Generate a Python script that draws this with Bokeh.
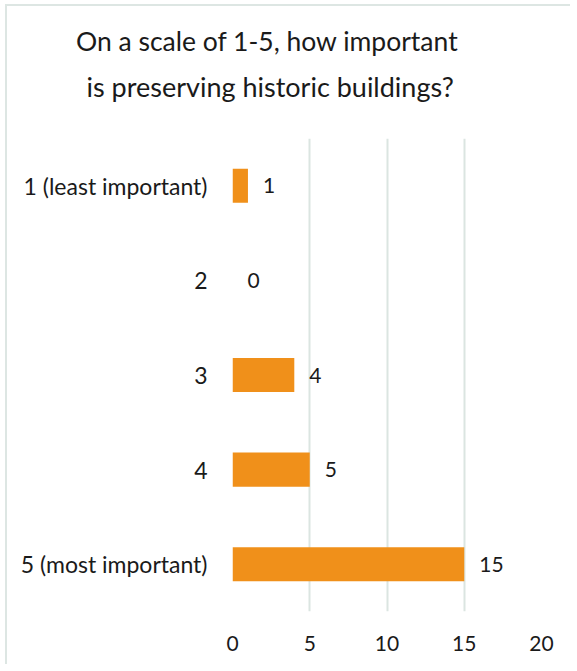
from bokeh.plotting import figure
from bokeh.models import ColumnDataSource, FactorRange, Range1d, LabelSet, Title, FixedTicker
from bokeh.core.properties import value
from bokeh.embed import file_html
from bokeh.resources import INLINE

categories = ["1 (least important)", "2", "3", "4", "5 (most important)"]
counts = [1, 0, 4, 5, 15]
x_ticks = [0, 5, 10, 15, 20]
title_lines = ["On a scale of 1-5, how important", "is preserving historic buildings?"]

FONT = "Lato"
BAR = "#F0901A"
GRID = "#dbe5e1"
TXT = "#1a1a1a"

src = ColumnDataSource(dict(cat=categories, val=counts, lab=[str(v) for v in counts]))

p = figure(
    width=565, height=660, title=None,
    y_range=FactorRange(factors=categories[::-1]),
    x_range=Range1d(0, 20),
    output_backend="svg", toolbar_location=None,
    min_border_left=225, min_border_right=31, min_border_top=132, min_border_bottom=55,
)
p.styles = {"border-left": "2px solid #dde6e3", "border-top": "2px solid #dde6e3",
            "margin-left": "5px", "margin-top": "4px"}

p.hbar(y="cat", right="val", left=0, height=0.36, source=src, fill_color=BAR, line_color=None)

labels = LabelSet(x="val", y="cat", text="lab", source=src, x_offset=15, y_offset=0,
                  text_baseline="middle", text_align="left",
                  text_font=value(FONT), text_font_size="21px", text_color=TXT)
p.add_layout(labels)

p.outline_line_color = None
p.background_fill_color = "white"
p.border_fill_color = "white"

p.ygrid.grid_line_color = None
p.xgrid.grid_line_color = GRID
p.xgrid.grid_line_width = 2
p.xaxis.ticker = FixedTicker(ticks=x_ticks)

for ax in (p.xaxis[0], p.yaxis[0]):
    ax.axis_line_color = None
    ax.major_tick_line_color = None
    ax.minor_tick_line_color = None
    ax.major_label_text_font = FONT
    ax.major_label_text_color = TXT
p.xaxis.major_label_text_font_size = "21px"
p.yaxis.major_label_text_font_size = "23px"
p.xaxis.major_label_standoff = 18
p.yaxis.major_label_standoff = 19

# second line first: the first title in "above" sits nearest the frame
t2 = Title(text=title_lines[1], align="left", offset=-146, standoff=72, vertical_align="bottom",
           text_font=FONT, text_font_size="27px", text_font_style="normal", text_color=TXT)
t1 = Title(text=title_lines[0], align="left", offset=-156.5, standoff=-50, vertical_align="bottom",
           text_font=FONT, text_font_size="26.5px", text_font_style="normal", text_color=TXT)
p.add_layout(t2, "above")
p.add_layout(t1, "above")

open("out.html", "w").write(file_html(p, INLINE))
